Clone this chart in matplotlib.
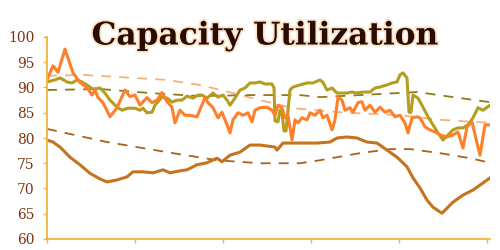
import matplotlib
matplotlib.use("Agg")
import matplotlib.pyplot as plt
import matplotlib.patheffects as pe

# ---- data (period index, utilization %) ----
orange_x = [0, 6, 11, 18, 26, 33, 40, 45, 48, 51, 56, 63, 70, 78, 83, 88, 93, 100, 105, 110,
            115, 120, 125, 128, 133, 138, 143, 150, 158, 161, 166, 171, 175, 180, 183, 186, 191,
            196, 201, 205, 208, 213, 220, 225, 228, 231, 235, 238, 241, 245, 248, 251, 255, 260,
            263, 268, 273, 276, 280, 285, 288, 291, 295, 298, 303, 306, 311, 315, 318, 323, 328,
            333, 338, 343, 348, 353, 358, 361, 365, 370, 373, 378, 383, 388, 393, 400, 406, 411,
            416, 420, 425, 430, 433, 438, 445]
orange_y = [91.5, 94.3, 93, 97.6, 92.9, 91, 90, 88.5, 89.5, 88, 87, 84.2, 86, 89.5, 88.2, 88.5,
            86.5, 88, 87, 87.5, 89, 87.2, 86.1, 83, 85.5, 84.5, 84.5, 84.2, 88, 87, 86, 84, 85.1,
            82.6, 81, 83.6, 85, 84.5, 85, 83.2, 85.5, 86, 86.1, 85.5, 84.5, 86.5, 86, 84, 84.5,
            79.6, 83.6, 83, 84, 83.6, 85, 84.5, 85.5, 84, 84.5, 81.6, 83.6, 88.1, 87.5, 85.5, 86,
            85.1, 87, 87.2, 85.5, 86.5, 85.1, 86.1, 85.1, 85.5, 84.2, 84.5, 83, 81, 84, 84.2, 84,
            82.2, 81.6, 81.2, 80.6, 80.2, 80.6, 81.2, 78, 82.2, 83.2, 79, 76.6, 82.6, 82.6]

olive_x = [0, 8, 13, 20, 25, 30, 35, 40, 46, 53, 58, 63, 70, 75, 81, 88, 93, 96, 100, 105, 108,
           115, 120, 125, 130, 135, 140, 146, 151, 155, 160, 166, 171, 176, 180, 183, 188, 193,
           198, 203, 208, 213, 218, 225, 227, 228, 231, 233, 235, 237, 239, 243, 246, 253, 260,
           266, 273, 276, 280, 285, 290, 293, 300, 305, 310, 316, 323, 328, 333, 340, 345, 350,
           353, 356, 360, 362, 364, 366, 371, 376, 381, 386, 391, 396, 401, 406, 411, 416, 421,
           426, 431, 436, 443]
olive_y = [91.1, 91.5, 91.9, 91.1, 90.9, 91.5, 91.1, 90.5, 89.7, 89.9, 88.9, 87.5, 86.1, 85.5,
           85.9, 85.9, 85.5, 85.9, 85, 85.1, 86.5, 88.1, 87.9, 87.1, 87.5, 87.5, 88.3, 87.9, 88.5,
           88.5, 87.9, 88.9, 88.1, 88.5, 87.5, 86.5, 87.9, 89.5, 89.9, 90.9, 90.9, 91.1, 90.7,
           90.7, 89.9, 83.4, 83.2, 85.5, 85, 81.4, 81.4, 89.5, 90.1, 90.5, 90.9, 90.9, 91.5, 91,
           89.5, 89.9, 88.9, 88.9, 88.9, 89.1, 88.9, 89.1, 89.1, 89.9, 90.1, 90.5, 90.9, 91.1,
           92.5, 92.9, 91.9, 85.1, 85.1, 88.5, 87.9, 86.1, 84.2, 82.6, 81, 79.6, 80.6, 81.6, 82,
           82, 82.6, 84, 86, 85.5, 86.5]

brown_x = [0, 6, 13, 23, 33, 43, 53, 60, 70, 80, 86, 96, 106, 116, 123, 133, 140, 150, 160, 170,
           175, 183, 193, 203, 213, 228, 230, 236, 253, 270, 283, 290, 300, 310, 320, 330, 340,
           350, 360, 366, 373, 380, 386, 395, 400, 406, 416, 426, 436, 443]
brown_y = [79.6, 79.2, 78.2, 76.2, 74.7, 73, 71.9, 71.3, 71.7, 72.3, 73.3, 73.3, 73.1, 73.7, 73.1,
           73.5, 73.7, 74.7, 75.1, 76, 75.3, 76.6, 77.2, 78.6, 78.6, 78.2, 77.6, 79, 79, 79, 79.2,
           80, 80.2, 80, 79.2, 79, 77.6, 76.2, 74.3, 72.1, 70.1, 67.7, 66.3, 65.1, 66.1, 67.3,
           68.7, 69.7, 71.1, 72.1]

# trend lines
brown_trend_x = [0, 60, 126, 170, 213, 253, 273, 313, 343, 363, 393, 423, 443]
brown_trend_y = [81.8, 79.2, 77, 75.6, 75, 75, 75.6, 77, 77.8, 77.8, 77, 76, 75.1]
orange_trend_x = [0, 36, 120, 153, 180, 213, 246, 293, 353, 393, 443]
orange_trend_y = [92.3, 92.5, 91.5, 90.5, 89.2, 87.5, 85.9, 85.1, 84.5, 83.6, 83]
olive_trend_x = [0, 53, 103, 153, 203, 253, 273, 313, 370, 406, 443]
olive_trend_y = [89.5, 89.7, 88.9, 88.3, 88.5, 88.5, 88.1, 88.5, 89.1, 88.1, 87.1]

yticks = [60, 65, 70, 75, 80, 85, 90, 95, 100]
xticks = [0, 88, 176, 264, 352, 440]

fig = plt.figure(figsize=(5, 2.5), dpi=100)
ax = fig.add_axes([47 / 500, 11 / 250, 443 / 500, 202 / 250])

dash = (0, (5.5, 4.5))
ax.plot(orange_trend_x, orange_trend_y, color='#f2b27a', lw=1.3, ls=dash)
ax.plot(olive_trend_x, olive_trend_y, color='#8f7a1c', lw=1.3, ls=dash)
ax.plot(brown_trend_x, brown_trend_y, color='#a8621c', lw=1.3, ls=dash)
ax.plot(olive_x, olive_y, color='#b59d1e', lw=2.2)
ax.plot(orange_x, orange_y, color='#ff7f2a', lw=2.2)
ax.plot(brown_x, brown_y, color='#c6721f', lw=2.2)

ax.set_xlim(0, 443)
ax.set_ylim(60, 100)
ax.set_yticks(yticks)
ax.set_xticks(xticks)
ax.set_xticklabels([])
for s in ['top', 'right']:
    ax.spines[s].set_visible(False)
for s in ['left', 'bottom']:
    ax.spines[s].set_color('#f0b43c')
    ax.spines[s].set_linewidth(1.3)
ax.tick_params(axis='both', colors='#f0b43c', length=3, width=1)
ax.tick_params(axis='y', labelcolor='#7a3510', labelsize=10, pad=6)
for lab in ax.get_yticklabels():
    lab.set_family('DejaVu Serif')

fig.text(265 / 500, 1 - 36 / 250, 'Capacity Utilization', ha='center', va='center',
         fontsize=22.5, fontweight='bold', family='DejaVu Serif', color='#2a0c04',
         path_effects=[pe.withStroke(linewidth=2.5, foreground='#fbe3c6')])

fig.savefig('out.png', dpi=100)
